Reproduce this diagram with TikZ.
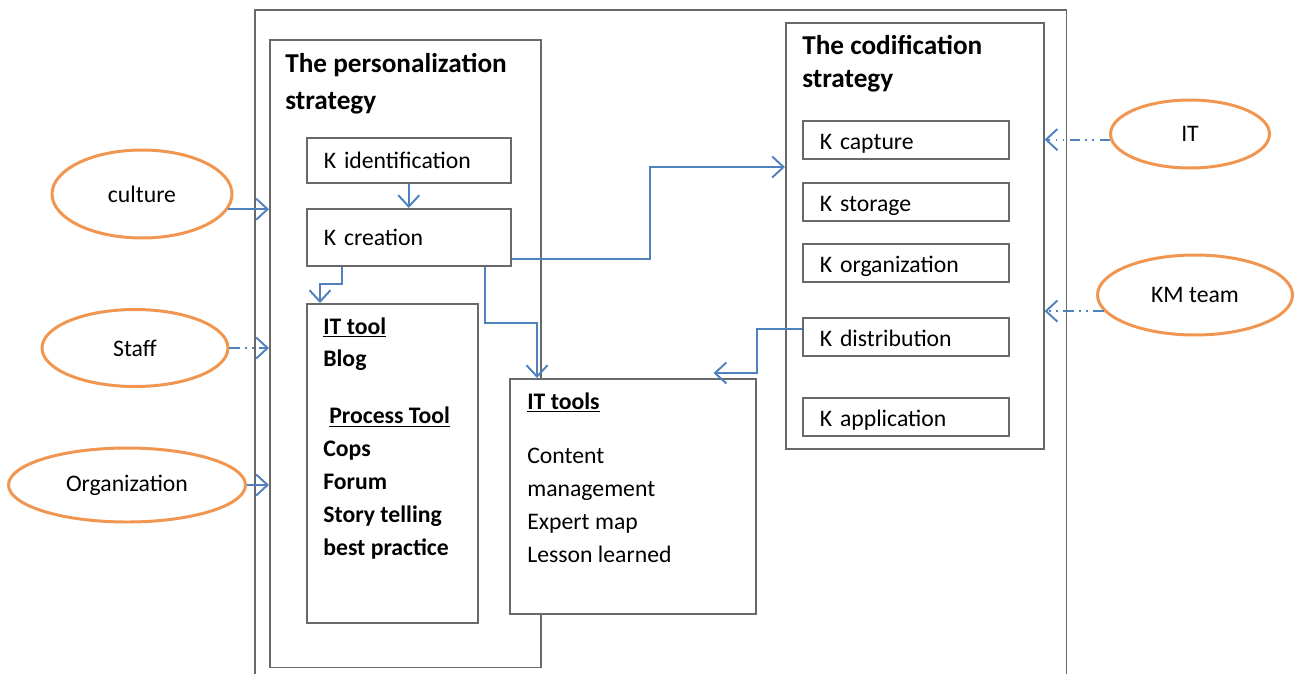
\documentclass[tikz,border=0pt]{standalone}
\usepackage{fontspec}
\setmainfont{Carlito}
\usetikzlibrary{arrows.meta, positioning, shapes.geometric, calc}
\definecolor{kmblue}{RGB}{79, 129, 189}
\definecolor{kmorange}{RGB}{240, 150, 80}
\definecolor{kmgray}{RGB}{105, 105, 105}

\begin{document}
\begin{tikzpicture}[
    x=0.02cm, y=-0.02cm,
    box/.style={rectangle, draw=kmgray, line width=0.9pt, anchor=north west, inner sep=0pt},
    sbox/.style={box, inner xsep=0.34cm, align=left, font=\fontsize{13.5}{16}\selectfont},
    kbox/.style={sbox, minimum width=4.12cm, minimum height=0.76cm, text width=3.44cm, text height=0.4cm, text depth=0pt},
    txt/.style={anchor=north west, inner sep=0pt, align=left, font=\fontsize{13.5}{18.7}\selectfont},
    ttl/.style={txt, font=\fontsize{15.5}{21}\selectfont\bfseries},
    ellip/.style={ellipse, draw=kmorange, line width=1.7pt, inner sep=0pt, font=\fontsize{13.5}{16}\selectfont},
    arr/.style={-{Straight Barb[length=6.5pt, width=12pt]}, line width=1.1pt, draw=#1},
    dashdot/.style={dash pattern=on 6pt off 3pt on 1pt off 3pt on 1pt off 3pt}
]
\useasboundingbox (0,0) rectangle (1300,673);

% frames
\node[box, minimum width=16.24cm, minimum height=13.6cm] (frame) at (254,9) {};
\node[box, minimum width=5.42cm, minimum height=12.56cm] (pers) at (269,39) {};
\node[ttl] (perstitle) at (285,53) {The personalization\\strategy};
\node[box, minimum width=5.16cm, minimum height=8.52cm] (codif) at (785,22) {};
\node[ttl, font=\fontsize{15.5}{18.7}\selectfont\bfseries] (codiftitle) at (802,35) {The codification\\strategy};

% personalization side
\node[sbox, minimum width=4.08cm, minimum height=0.9cm, text width=3.4cm] (kident) at (306,137) {K identification};
\node[sbox, minimum width=4.08cm, minimum height=1.14cm, text width=3.4cm] (kcreat) at (306,208) {K creation};
\node[box, minimum width=3.42cm, minimum height=6.38cm] (ittool) at (306,303) {};
\node[txt, font=\fontsize{13.5}{18.7}\selectfont\bfseries, below right=0.28cm and 0.34cm of ittool.north west] (ittooltext)
    {\underline{IT tool}\\Blog\\[0.48cm]\hspace{0.12cm}\underline{Process Tool}\\Cops\\Forum\\Story telling\\best practice};
\node[box, fill=white, minimum width=4.92cm, minimum height=4.7cm] (ittools) at (509,378) {};
\node[txt, below right=0.28cm and 0.36cm of ittools.north west] (ittoolstext)
    {\textbf{\underline{IT tools}}\\[0.44cm]Content\\management\\Expert map\\Lesson learned};

% codification side
\node[kbox] (kcap) at (802,120) {K capture};
\node[kbox] (kstor) at (802,182) {K storage};
\node[kbox] (korg) at (802,243) {K organization};
\node[kbox] (kdist) at (802,317) {K distribution};
\node[kbox] (kappl) at (802,397) {K application};

% factors
\node[ellip, minimum width=3.6cm, minimum height=1.76cm] (culture) at (142,194) {culture};
\node[ellip, minimum width=3.72cm, minimum height=1.54cm] (staff) at (135,348) {Staff};
\node[ellip, minimum width=4.74cm, minimum height=1.48cm] (org) at (127,485) {Organization};
\node[ellip, minimum width=3.18cm, minimum height=1.36cm] (itell) at (1190,134) {IT};
\node[ellip, minimum width=3.9cm, minimum height=1.6cm] (kmteam) at (1195,295) {KM team};

% flows
\draw[arr=kmblue] (kident.south) -- (kcreat.north);
\draw[arr=kmblue] ($(kcreat.south west)+(36,0)$) -- ++(0,17) -- ++(-22,0) -- ($(ittool.north west)+(14,0)$);
\draw[arr=kmblue] ($(kcreat.south west)+(179,0)$) |- ($(ittools.north west)+(28,-55)$) -- ($(ittools.north west)+(28,0)$);
\draw[arr=kmblue] ($(kcreat.south east)+(0,-8)$) -- ++(138,0) |- ($(codif.north west)+(0,145)$);
\draw[arr=kmblue] ($(kdist.north west)+(0,12)$) -- ++(-45,0) |- ($(ittools.north east)+(-43,-5)$);

% influences
\draw[arr=kmblue] (culture.-10) -- (culture.-10 -| pers.west);
\draw[arr=kmblue, dashdot] (staff.east) -- (staff.east -| pers.west);
\draw[arr=kmblue] (org.east) -- (org.east -| pers.west);
\draw[arr=kmblue, dashdot] (itell.184) -- (itell.184 -| codif.east);
\draw[arr=kmblue, dashdot] (kmteam.190) -- (kmteam.190 -| codif.east);

\end{tikzpicture}
\end{document}
